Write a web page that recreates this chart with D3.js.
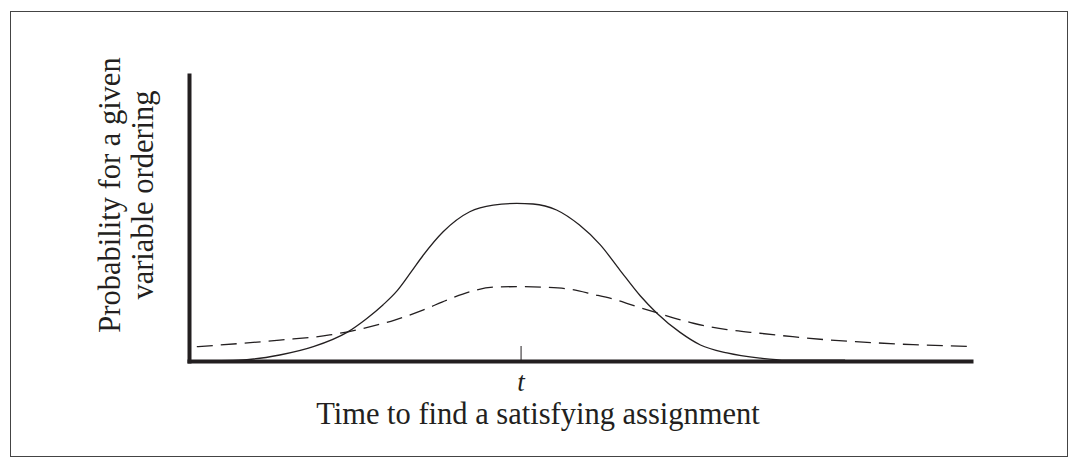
<!DOCTYPE html>
<html>
<head>
<meta charset="utf-8">
<script src="https://cdn.jsdelivr.net/npm/d3@7"></script>
<style>
  html, body { margin: 0; padding: 0; background: #fff; }
  svg { display: block; }
</style>
</head>
<body>
<svg id="chart" width="1078" height="467"></svg>
<script>
// ---- data ----
const solidX = [1.4, 7.4, 11.6, 15.9, 20.2, 22.7, 24.8, 26.6, 28.5, 29.9, 32.5, 35.9, 38.9, 41.9, 44.0, 47.0, 49.9, 52.6, 55.1, 57.7, 59.8, 62.8, 65.4, 68.8, 73.0, 76.4, 83.9];
const solidY = [0, 0.005, 0.021, 0.050, 0.100, 0.148, 0.196, 0.245, 0.315, 0.368, 0.452, 0.522, 0.545, 0.551, 0.549, 0.528, 0.476, 0.406, 0.318, 0.228, 0.168, 0.100, 0.056, 0.028, 0.010, 0.003, 0.003];
const dashedX = [1.0, 11.6, 18.0, 23.2, 26.3, 29.9, 33.0, 35.9, 38.9, 42.3, 45.3, 48.7, 51.7, 54.7, 57.3, 59.8, 64.5, 68.8, 73.0, 77.2, 81.6, 86.2, 92.6, 100];
const dashedY = [0.050, 0.073, 0.091, 0.120, 0.143, 0.178, 0.213, 0.242, 0.258, 0.260, 0.258, 0.251, 0.233, 0.213, 0.190, 0.169, 0.132, 0.110, 0.097, 0.085, 0.074, 0.066, 0.057, 0.051];
const tickValues = [42.4];
const tickLabels = ["t"];
const xTitle = "Time to find a satisfying assignment";
const yTitleLines = ["Probability for a given", "variable ordering"];

// ---- layout ----
const svg = d3.select("#chart");
const x = d3.scaleLinear().domain([0, 100]).range([189, 971]);
const y = d3.scaleLinear().domain([0, 1]).range([361, 75]);
const ink = "#231f20";
const serif = "'Liberation Serif', 'Times New Roman', serif";

// outer frame
svg.append("rect")
  .attr("x", 10.5).attr("y", 11.5)
  .attr("width", 1057).attr("height", 445)
  .attr("fill", "none").attr("stroke", "#444").attr("stroke-width", 1);

const line = d3.line().x(d => x(d[0])).y(d => y(d[1])).curve(d3.curveMonotoneX);

// dashed curve
svg.append("path")
  .datum(d3.zip(dashedX, dashedY))
  .attr("d", line)
  .attr("fill", "none").attr("stroke", ink)
  .attr("stroke-width", 1.3)
  .attr("stroke-dasharray", "16,8");

// solid curve
svg.append("path")
  .datum(d3.zip(solidX, solidY))
  .attr("d", line)
  .attr("fill", "none").attr("stroke", ink)
  .attr("stroke-width", 1.3);

// x axis
const xAxis = svg.append("g")
  .attr("transform", `translate(0,${y(0)})`)
  .call(d3.axisBottom(x).tickValues(tickValues)
    .tickFormat((d, i) => tickLabels[i])
    .tickSizeInner(-15).tickSizeOuter(0).tickPadding(0));
xAxis.select(".domain").attr("stroke", ink).attr("stroke-width", 4).attr("stroke-linecap", "square");
xAxis.selectAll(".tick line").attr("stroke", ink).attr("stroke-width", 1);
xAxis.selectAll(".tick text")
  .attr("y", 30).attr("dy", null)
  .attr("fill", ink)
  .style("font-family", serif).style("font-style", "italic")
  .style("font-size", "27px");

// y axis
const yAxis = svg.append("g")
  .attr("transform", `translate(${x(0)},0)`)
  .call(d3.axisLeft(y).tickValues([]).tickSizeOuter(0));
yAxis.select(".domain").attr("stroke", ink).attr("stroke-width", 4).attr("stroke-linecap", "square");

// x title
svg.append("text")
  .attr("x", 538).attr("y", 424)
  .attr("text-anchor", "middle")
  .attr("fill", ink)
  .style("font-family", serif).style("font-size", "30.5px")
  .text(xTitle);

// y title
const yt = svg.append("text")
  .attr("transform", "translate(0,195) rotate(-90)")
  .attr("text-anchor", "middle")
  .attr("fill", ink)
  .style("font-family", serif).style("font-size", "30.5px");
yTitleLines.forEach((t, i) => {
  yt.append("tspan").attr("x", 0).attr("y", 120 + i * 33).text(t);
});
</script>
</body>
</html>
